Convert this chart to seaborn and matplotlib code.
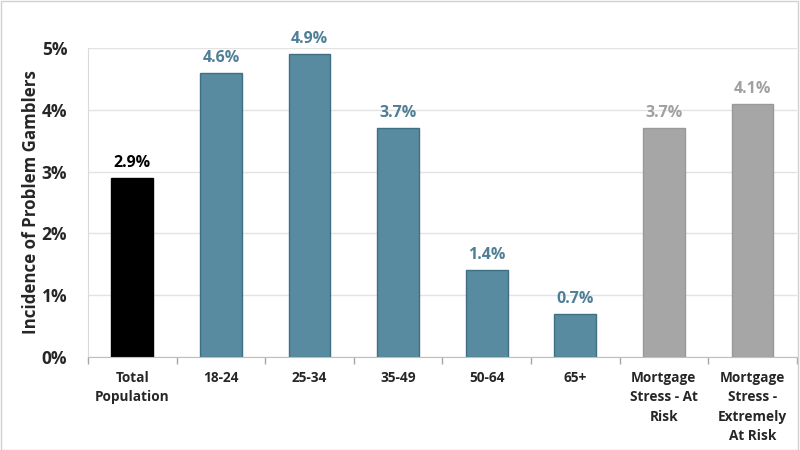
import numpy as np
import pandas as pd
import matplotlib.pyplot as plt
import seaborn as sns
from matplotlib.patches import Rectangle
from matplotlib.ticker import FuncFormatter

# Incidence of problem gamblers by group (percent)
categories = ["Total\nPopulation", "18-24", "25-34", "35-49", "50-64", "65+",
              "Mortgage\nStress - At\nRisk", "Mortgage\nStress -\nExtremely\nAt Risk"]
values = [2.9, 4.6, 4.9, 3.7, 1.4, 0.7, 3.7, 4.1]
groups = ["total", "age", "age", "age", "age", "age", "mortgage", "mortgage"]

bar_colors = {"total": "#000000", "age": "#588ba0", "mortgage": "#a6a6a6"}
edge_colors = {"total": "#000000", "age": "#3f6f85", "mortgage": "#999999"}
label_colors = {"total": "#000000", "age": "#4f7f96", "mortgage": "#a0a0a0"}

df = pd.DataFrame({"category": categories, "value": values, "group": groups})

sns.set_style("white")
plt.rcParams["font.family"] = ["Open Sans", "DejaVu Sans"]

fig = plt.figure(figsize=(8, 4.5), dpi=100)
ax = fig.add_axes([0.11, 0.207, 0.886, 0.686])

sns.barplot(data=df, x="category", y="value", hue="category",
            palette=[bar_colors[g] for g in groups], width=0.47,
            legend=False, ax=ax, saturation=1)

for patch, g in zip(ax.patches, groups):
    patch.set_edgecolor(edge_colors[g])
    patch.set_linewidth(1)

for container, g, v in zip(ax.containers, groups, values):
    ax.bar_label(container, labels=[f"{v:.1f}%"], padding=5,
                 color=label_colors[g], fontsize=11.5, fontweight="bold")

ax.set_ylim(0, 5)
ax.set_xlim(-0.5, len(categories) - 0.5)
ax.set_yticks(np.arange(0, 6, 1))
ax.yaxis.set_major_formatter(FuncFormatter(lambda y, _: f"{y:.0f}%"))
ax.yaxis.grid(True, color="#e3e3e3", linewidth=1)
ax.set_axisbelow(True)

ax.set_ylabel("Incidence of Problem Gamblers", fontsize=12.2, fontweight="bold")
ax.yaxis.set_label_coords(-0.068, 0.5)
ax.set_xlabel("")

for lbl in ax.get_yticklabels():
    lbl.set_fontweight("bold")
    lbl.set_fontsize(12.5)
for lbl in ax.get_xticklabels():
    lbl.set_fontweight("bold")
    lbl.set_fontsize(9.8)
    lbl.set_linespacing(1.5)
ax.tick_params(axis="x", which="major", length=0, pad=10)
ax.tick_params(axis="y", length=0, pad=15)

# tick marks between categories
ax.set_xticks(np.arange(-0.5, len(categories), 1), minor=True)
ax.tick_params(axis="x", which="minor", bottom=True, direction="out",
               length=5, color="#a6a6a6", width=1)

for side in ["top", "right"]:
    ax.spines[side].set_visible(False)
ax.spines["left"].set_color("#d9d9d9")
ax.spines["bottom"].set_color("#bfbfbf")

fig.patches.append(Rectangle((0.001, 0.001), 0.996, 0.997, transform=fig.transFigure,
                             fill=False, edgecolor="#d0d0d0", linewidth=1))

fig.savefig("out.png", dpi=100)
